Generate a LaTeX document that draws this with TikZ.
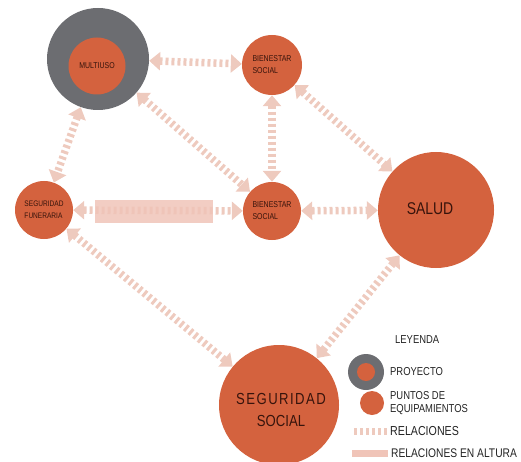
\documentclass[tikz,border=0pt]{standalone}
\usepackage{fontspec}
\setmainfont{Liberation Sans}[FakeStretch=0.82]
\usetikzlibrary{arrows.meta}
\definecolor{orangeC}{RGB}{212,98,62}
\definecolor{grayC}{RGB}{108,109,113}
\definecolor{relC}{RGB}{238,202,190}
\definecolor{barC}{RGB}{240,196,184}
\definecolor{txtC}{RGB}{55,20,12}
\definecolor{legC}{RGB}{35,35,35}
\tikzset{
  eq/.style={circle, fill=orangeC, inner sep=0pt, minimum size=#1, text=txtC, align=left},
  rel/.style={draw=relC, line width=7.5pt, dash pattern=on 3pt off 3pt,
    {Triangle[width=18pt,length=11pt]}-{Triangle[width=18pt,length=11pt]}},
  legtxt/.style={anchor=west, text=legC, inner sep=0pt, font=\fontsize{11.5}{13}\selectfont, align=left},
}
\begin{document}
\begin{tikzpicture}[x=1pt,y=-1pt]
\useasboundingbox (0,0) rectangle (521,462);
% nodes
\node[circle, fill=grayC, minimum size=102pt, inner sep=0pt] (mult) at (98,59) {};
\node[eq=57pt, font=\fontsize{8.5}{9}\selectfont] (multin) at (97,66) {MULTIUSO};
\node[eq=60pt, font=\fontsize{8.5}{12}\selectfont] (bt) at (272,65) {BIENESTAR\\SOCIAL};
\node[eq=58pt, font=\fontsize{8.5}{12}\selectfont] (bm) at (272,211) {BIENESTAR\\SOCIAL};
\node[eq=58pt, font=\fontsize{8}{12}\selectfont] (fun) at (44,210) {SEGURIDAD\\FUNERARIA};
\node[eq=116pt] (sal) at (436,210) {};
\node[text=txtC, font=\fontsize{17}{18}\selectfont, inner sep=0pt] (saltxt) at (430,209) {SALUD};
\node[eq=120pt] (ss) at (279,405) {};
\node[text=txtC, font=\fontsize{16}{22}\selectfont, align=center, inner sep=0pt] (sstxt) at (281,410)
  {\addfontfeature{LetterSpace=9}SEGURIDAD\\SOCIAL};
% connectors
\draw[rel] (mult) -- (bt);
\draw[rel] (mult) -- (fun);
\draw[rel] (mult) -- (bm);
\draw[rel] (bt) -- (bm);
\draw[rel] (bt) -- (sal);
\draw[rel] (bm) -- (sal);
\draw[rel] (fun) -- (ss);
\draw[rel] (sal) -- (ss);
\draw[rel] (fun) -- (bm);
\node[fill=barC, fill opacity=0.85, minimum width=118pt, minimum height=23pt, inner sep=0pt] (bar) at (154,211.5) {};
% legend
\node[legtxt] (ley) at (395,340) {LEYENDA};
\node[circle, fill=grayC, minimum size=36pt, inner sep=0pt] (lg) at (366,372) {};
\node[circle, fill=orangeC, minimum size=18pt, inner sep=0pt] (lgin) at (lg) {};
\node[legtxt] (proy) at (390,372) {PROYECTO};
\node[circle, fill=orangeC, minimum size=24pt, inner sep=0pt] (lo) at (372,403) {};
\node[legtxt] (pun) at (390,403) {PUNTOS DE\\EQUIPAMIENTOS};
\coordinate (r1) at (354,431);
\coordinate (r2) at (387,431);
\draw[draw=relC, line width=7pt, dash pattern=on 3pt off 3pt] (r1) -- (r2);
\node[legtxt, font=\fontsize{13}{14}\selectfont] (rel) at (390,431) {RELACIONES};
\node[fill=barC, minimum width=36pt, minimum height=7pt, inner sep=0pt] (lbar) at (370,453) {};
\node[legtxt, font=\fontsize{12.5}{14}\selectfont] (relalt) at (391,453) {RELACIONES EN ALTURA};
\end{tikzpicture}
\end{document}
